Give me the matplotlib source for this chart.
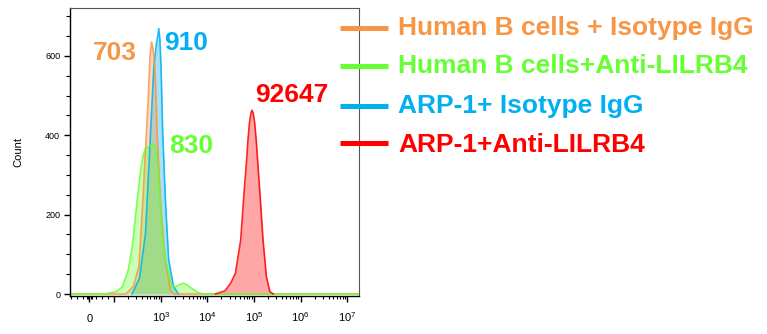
import numpy as np
import matplotlib.pyplot as plt
from matplotlib.lines import Line2D
from matplotlib.ticker import FixedLocator, MultipleLocator

plt.rcParams['font.family'] = ['Liberation Sans', 'DejaVu Sans']
plt.rcParams['mathtext.fontset'] = 'custom'
plt.rcParams['mathtext.rm'] = 'Liberation Sans'

# legend / peak labels
names = ['Human B cells + Isotype IgG', 'Human B cells+Anti-LILRB4',
         'ARP-1+ Isotype IgG', 'ARP-1+Anti-LILRB4']
colors = ['#F79646', '#66FF33', '#00B0F0', '#FF0000']
medians = ['703', '830', '910', '92647']

# histograms (fluorescence value, count)
orange_x = [-78, 180, 260, 340, 414, 450, 500, 537, 590, 634, 690, 745, 790, 834, 986, 1120, 1259, 1607, 1891, 1.79e7]
orange_y = [0, 0, 20, 69, 237, 321, 420, 489, 600, 635, 615, 572, 500, 405, 237, 150, 86, 10, 0, 0]

green_x = [-78, 60, 110, 150, 200, 245, 313, 370, 420, 472, 556, 620, 676, 760, 834, 950, 1066, 1250, 1479, 1738, 2100, 2415, 3084, 3800, 4634, 6440, 8935, 1.79e7]
green_y = [0, 0, 6, 18, 60, 119, 237, 312, 350, 367, 372, 375, 380, 370, 346, 250, 153, 90, 52, 20, 18, 23, 27, 22, 14, 3, 0, 0]

blue_x = [242, 350, 472, 604, 710, 810, 860, 907, 960, 1015, 1103, 1259, 1479, 1891, 2415]
blue_y = [0, 40, 153, 405, 572, 631, 650, 669, 640, 572, 405, 237, 86, 18, 0]

red_x = [15000, 24000, 32000, 40000, 52000, 62000, 70000, 74500, 80000, 86000, 90600, 96000, 104000, 112000, 133000, 157000, 185000, 220000, 260000]
red_y = [0, 8, 28, 52, 136, 262, 340, 388, 430, 455, 463, 457, 430, 388, 262, 136, 44, 6, 0]

fig = plt.figure(figsize=(7.67, 3.34), dpi=100)
ax = fig.add_axes([0.0913, 0.1138, 0.3766, 0.8614])

series = [(blue_x, blue_y, colors[2]), (orange_x, orange_y, colors[0]),
          (green_x, green_y, colors[1]), (red_x, red_y, colors[3])]
for xs, ys, c in series:
  ax.fill_between(xs, ys, color=c, alpha=0.35, lw=0)
  ax.plot(xs, ys, color=c, lw=1.2, alpha=0.85)

ax.set_xscale('symlog', linthresh=100, linscale=0.479)
ax.set_xlim(-78, 1.79e7)
ax.set_ylim(-5, 720)

major = [0, 1e2, 1e3, 1e4, 1e5, 1e6, 1e7]
ax.xaxis.set_major_locator(FixedLocator(major))
ax.set_xticklabels(['0', ''] + [r'$\mathregular{10^{%d}}$' % k for k in range(3, 8)])
minor = [-75, -50, -25, -10, -5, 5, 10, 25, 50, 75]
for k in range(2, 7):
  minor += [m * 10 ** k for m in range(2, 10)]
ax.xaxis.set_minor_locator(FixedLocator(minor))
for lbl in ax.get_xticklabels():
  lbl.set_verticalalignment('baseline')

ax.yaxis.set_major_locator(FixedLocator([0, 200, 400, 600]))
ax.yaxis.set_minor_locator(MultipleLocator(50))

ax.tick_params(axis='x', which='major', length=4, width=1, labelsize=8, pad=15)
ax.tick_params(axis='x', which='minor', length=2.5, width=0.8)
ax.tick_params(axis='y', which='major', length=4, width=1, labelsize=6.5, pad=3)
ax.tick_params(axis='y', which='minor', length=3, width=0.8)

for s in ['left', 'bottom']:
  ax.spines[s].set_color('black')
  ax.spines[s].set_linewidth(1)
for s in ['top', 'right']:
  ax.spines[s].set_color('#555555')
  ax.spines[s].set_linewidth(0.8)

ax.set_ylabel('Count', fontsize=8, labelpad=16)

# peak labels
ax.text(0.154, 0.820, medians[0], color=colors[0], fontsize=19, fontweight='bold', ha='center', va='baseline', transform=ax.transAxes)
ax.text(0.421, 0.497, medians[1], color=colors[1], fontsize=19, fontweight='bold', ha='center', va='baseline', transform=ax.transAxes)
ax.text(0.400, 0.855, medians[2], color=colors[2], fontsize=19, fontweight='bold', ha='center', va='baseline', transform=ax.transAxes)
ax.text(0.768, 0.675, medians[3], color=colors[3], fontsize=19, fontweight='bold', ha='center', va='baseline', transform=ax.transAxes)

# legend drawn by hand to the right of the plot
line_y = [0.916, 0.802, 0.683, 0.572]
text_y = [0.895, 0.782, 0.6626, 0.546]
for name, c, ly, ty in zip(names, colors, line_y, text_y):
  fig.add_artist(Line2D([0.443, 0.506], [ly, ly], color=c, lw=3.6, solid_capstyle='butt'))
  fig.text(0.519, ty, name, color=c, fontsize=19, fontweight='bold', va='baseline')

fig.savefig('out.png', dpi=100)
